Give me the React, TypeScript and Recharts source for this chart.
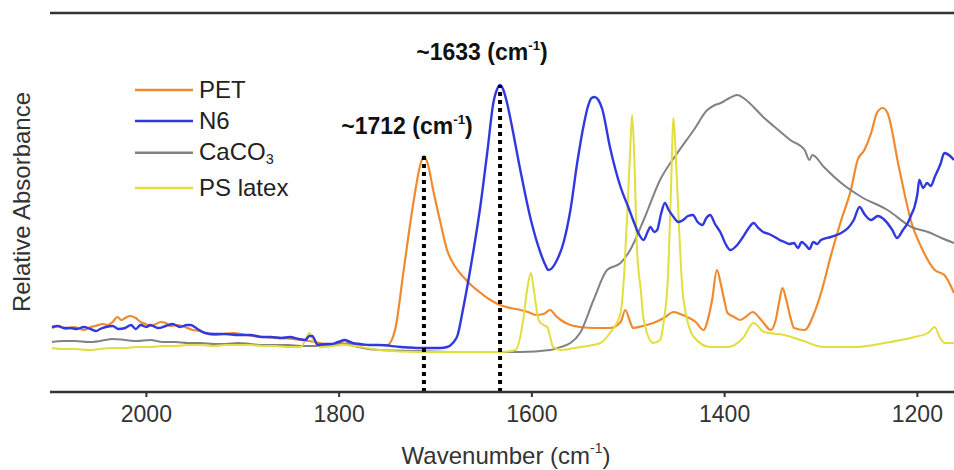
import React from 'react';
import { LineChart, Line, XAxis, YAxis, ReferenceLine } from 'recharts';

// [wavenumber (cm-1), relative absorbance (a.u.)]
const PET: [number, number][] = [
  [2098, 64], [2090, 66], [2083, 63], [2076, 65], [2071, 64], [2064, 62], [2058, 65], [2053, 66],
  [2045, 68], [2040, 67], [2035, 70], [2030, 75], [2026, 72], [2022, 74], [2017, 76], [2011, 74],
  [2006, 70], [2001, 68], [1996, 66], [1990, 68], [1985, 70], [1980, 69], [1975, 66], [1968, 67],
  [1960, 65], [1952, 62], [1945, 61], [1939, 59], [1930, 57], [1920, 58], [1910, 59], [1897, 57],
  [1880, 55], [1860, 54], [1840, 52], [1825, 50], [1809, 47], [1799, 49], [1785, 47], [1768, 47],
  [1750, 47], [1742, 62], [1733, 122], [1723, 189], [1715, 230], [1712, 236], [1708, 228], [1702, 200],
  [1695, 170], [1688, 142], [1680, 126], [1671, 115], [1662, 106], [1653, 99], [1643, 92], [1633, 87],
  [1622, 84], [1612, 82], [1604, 80], [1596, 77], [1588, 78], [1581, 82], [1575, 76], [1570, 72],
  [1560, 67], [1550, 65], [1535, 64], [1519, 64], [1508, 70], [1503, 82], [1498, 70], [1495, 64],
  [1485, 66], [1474, 69], [1463, 74], [1453, 80], [1446, 78], [1439, 75], [1430, 70], [1422, 62],
  [1416, 78], [1413, 92], [1408, 122], [1404, 108], [1400, 90], [1397, 79], [1390, 75], [1384, 72],
  [1377, 76], [1371, 80], [1362, 72], [1352, 62], [1347, 72], [1343, 92], [1340, 104], [1336, 92],
  [1331, 72], [1328, 64], [1317, 62], [1307, 79], [1300, 99], [1289, 139], [1279, 172], [1269, 202],
  [1262, 232], [1255, 242], [1248, 259], [1242, 279], [1236, 284], [1231, 279], [1219, 224],
  [1206, 169], [1196, 145], [1182, 122], [1172, 117], [1162, 99],
];

const N6: [number, number][] = [
  [2098, 65], [2092, 66], [2086, 64], [2079, 64], [2072, 63], [2065, 65], [2058, 63], [2052, 61],
  [2048, 63], [2042, 65], [2035, 66], [2029, 63], [2022, 64], [2016, 67], [2011, 63], [2006, 67],
  [2000, 65], [1996, 67], [1988, 64], [1980, 66], [1973, 68], [1965, 65], [1958, 67], [1954, 67],
  [1947, 63], [1939, 59], [1930, 58], [1918, 58], [1905, 57], [1892, 57], [1880, 55], [1871, 55],
  [1860, 54], [1851, 55], [1842, 53], [1835, 52], [1831, 56], [1828, 56], [1822, 47], [1815, 48],
  [1809, 48], [1801, 50], [1794, 52], [1786, 49], [1778, 48], [1768, 47], [1759, 47], [1736, 45],
  [1716, 44], [1695, 44], [1688, 45], [1682, 49], [1677, 57], [1672, 80], [1664, 122], [1653, 189],
  [1646, 242], [1640, 289], [1636, 303], [1633, 307], [1630, 303], [1626, 290], [1622, 272],
  [1612, 222], [1601, 172], [1591, 139], [1586, 127], [1583, 122], [1579, 124], [1575, 130],
  [1567, 150], [1560, 182], [1553, 229], [1546, 268], [1542, 285], [1538, 294], [1535, 295],
  [1531, 292], [1527, 283], [1519, 245], [1508, 205], [1500, 185], [1495, 172], [1489, 158],
  [1484, 152], [1480, 160], [1477, 165], [1473, 160], [1470, 162], [1466, 178], [1462, 189],
  [1458, 182], [1453, 175], [1448, 170], [1443, 172], [1438, 176], [1433, 177], [1428, 170],
  [1423, 167], [1419, 174], [1415, 177], [1410, 168], [1404, 159], [1399, 148], [1394, 142],
  [1388, 146], [1381, 155], [1375, 164], [1370, 169], [1365, 164], [1360, 160], [1354, 158],
  [1348, 155], [1343, 152], [1338, 150], [1333, 148], [1328, 149], [1324, 144], [1320, 150],
  [1316, 147], [1312, 143], [1308, 150], [1304, 148], [1300, 152], [1290, 155], [1279, 159],
  [1272, 164], [1266, 172], [1260, 185], [1255, 178], [1248, 172], [1241, 176], [1234, 172],
  [1226, 162], [1221, 154], [1215, 162], [1210, 169], [1206, 178], [1203, 185], [1200, 198],
  [1198, 212], [1194, 204], [1190, 209], [1186, 206], [1182, 215], [1176, 228], [1172, 239],
  [1166, 236], [1162, 232],
];

const CACO3: [number, number][] = [
  [2098, 50], [2086, 51], [2074, 51], [2060, 50], [2048, 51], [2035, 53], [2022, 52], [2010, 51],
  [1996, 52], [1983, 50], [1970, 50], [1957, 49], [1944, 49], [1930, 48], [1918, 48], [1905, 49],
  [1892, 48], [1879, 47], [1866, 47], [1853, 47], [1840, 46], [1830, 46], [1819, 46], [1801, 48],
  [1795, 52], [1788, 47], [1757, 42], [1716, 41], [1674, 40], [1612, 40], [1581, 42], [1570, 45],
  [1560, 49], [1550, 59], [1536, 92], [1522, 122], [1508, 129], [1498, 142], [1484, 172],
  [1467, 212], [1449, 239], [1432, 262], [1418, 282], [1410, 287], [1404, 289], [1395, 294],
  [1387, 297], [1379, 293], [1370, 285], [1360, 275], [1348, 265], [1332, 252], [1317, 242],
  [1312, 232], [1309, 237], [1297, 225], [1279, 209], [1258, 195], [1231, 182], [1206, 165],
  [1189, 160], [1175, 154], [1162, 149],
];

const PS_LATEX: [number, number][] = [
  [2098, 44], [2086, 43], [2074, 43], [2060, 42], [2048, 43], [2035, 44], [2022, 44], [2010, 45],
  [1996, 45], [1983, 46], [1970, 46], [1957, 47], [1944, 47], [1930, 46], [1918, 47], [1905, 47],
  [1892, 47], [1879, 46], [1866, 46], [1853, 45], [1840, 45], [1835, 52], [1831, 59], [1827, 52],
  [1819, 45], [1794, 47], [1759, 42], [1716, 40], [1632, 40], [1617, 42], [1609, 72], [1605, 102],
  [1601, 119], [1598, 102], [1593, 72], [1588, 67], [1584, 65], [1581, 55], [1578, 45], [1570, 42],
  [1550, 45], [1529, 49], [1519, 59], [1508, 79], [1504, 122], [1501, 179], [1498, 242],
  [1496, 277], [1494, 242], [1491, 145], [1487, 102], [1484, 72], [1474, 49], [1467, 52],
  [1463, 72], [1459, 112], [1456, 192], [1453, 274], [1450, 222], [1448, 179], [1443, 95],
  [1432, 55], [1415, 45], [1397, 45], [1381, 54], [1370, 69], [1359, 60], [1338, 57], [1321, 52],
  [1297, 45], [1265, 45], [1234, 49], [1203, 55], [1189, 59], [1182, 65], [1177, 55], [1172, 49],
  [1162, 49],
];

const X_TICKS = [2000, 1800, 1600, 1400, 1200];
const X_DOMAIN: [number, number] = [1162, 2100];
const Y_DOMAIN: [number, number] = [0, 379];
const MARKED_PEAKS: { wn: number; abs: number; label: string }[] = [
  { wn: 1712, abs: 236, label: '~1712' },
  { wn: 1633, abs: 307, label: '~1633' },
];

const SERIES = [
  { name: 'PET', data: PET, color: '#F08A2E', width: 2.2 },
  { name: 'CaCO3', data: CACO3, color: '#828282', width: 2 },
  { name: 'PS latex', data: PS_LATEX, color: '#E2DE3E', width: 2 },
  { name: 'N6', data: N6, color: '#3038E0', width: 2.4 },
];

const toRows = (arr: [number, number][]) => arr.map(([wn, v]) => ({ wn, v }));

const FONT = '"Liberation Sans", Arial, Helvetica, sans-serif';
const AXIS = '#333333';

const Cm = () => (
  <>
    (cm<sup style={{ fontSize: '0.58em', verticalAlign: '0.75em' }}>-1</sup>)
  </>
);

const legendItems = [
  { key: 'PET', color: '#F08A2E', top: 90, text: <>PET</> },
  { key: 'N6', color: '#3038E0', top: 121, text: <>N6</> },
  { key: 'CaCO3', color: '#828282', top: 153, text: <>CaCO<sub style={{ fontSize: '0.6em', verticalAlign: '-0.3em' }}>3</sub></> },
  { key: 'PS', color: '#E2DE3E', top: 188, text: <>PS latex</> },
];

export default function App() {
  return (
    <div style={{ position: 'absolute', left: 0, top: 0, width: 954, height: 470, fontFamily: FONT, background: '#fff', overflow: 'hidden' }}>
      <style>{'html,body{margin:0;padding:0;overflow:hidden;}'}</style>
      <LineChart width={954} height={470} margin={{ top: 13, right: 0, bottom: 38, left: 50 }}>
        <XAxis
          type="number"
          dataKey="wn"
          domain={X_DOMAIN}
          reversed
          allowDataOverflow
          ticks={X_TICKS}
          height={40}
          tickSize={5}
          tickMargin={9}
          tick={{ fontSize: 23, fill: AXIS, fontFamily: FONT }}
          tickLine={{ stroke: AXIS, strokeWidth: 2 }}
          axisLine={{ stroke: AXIS, strokeWidth: 2.5 }}
        />
        <YAxis
          type="number"
          domain={Y_DOMAIN}
          allowDataOverflow
          width={0}
          tick={false}
          tickLine={false}
          axisLine={{ stroke: AXIS, strokeWidth: 2.5 }}
        />
        <ReferenceLine y={Y_DOMAIN[1]} stroke={AXIS} strokeWidth={2.5} ifOverflow="visible" />
        {SERIES.map((s) => (
          <Line
            key={s.name}
            data={toRows(s.data)}
            dataKey="v"
            type="monotone"
            stroke={s.color}
            strokeWidth={s.width}
            dot={false}
            activeDot={false}
            isAnimationActive={false}
          />
        ))}
        {MARKED_PEAKS.map((p) => (
          <ReferenceLine
            key={p.label}
            segment={[{ x: p.wn, y: 0 }, { x: p.wn, y: p.abs }]}
            stroke="#000"
            strokeWidth={4}
            strokeDasharray="4 4"
          />
        ))}
      </LineChart>

      {/* annotations */}
      <div style={{ position: 'absolute', left: 407, top: 125, transform: 'translate(-50%,-50%)', fontSize: 23, fontWeight: 700, color: '#111', whiteSpace: 'nowrap', lineHeight: 1 }}>
        {MARKED_PEAKS[0].label} <Cm />
      </div>
      <div style={{ position: 'absolute', left: 482, top: 51, transform: 'translate(-50%,-50%)', fontSize: 23, fontWeight: 700, color: '#111', whiteSpace: 'nowrap', lineHeight: 1 }}>
        {MARKED_PEAKS[1].label} <Cm />
      </div>

      {/* axis titles */}
      <div style={{ position: 'absolute', left: 22, top: 202, transform: 'translate(-50%,-50%) rotate(-90deg)', fontSize: 24, color: AXIS, whiteSpace: 'nowrap', lineHeight: 1 }}>
        Relative Absorbance
      </div>
      <div style={{ position: 'absolute', left: 506, top: 455, transform: 'translate(-50%,-50%)', fontSize: 24, color: AXIS, whiteSpace: 'nowrap', lineHeight: 1 }}>
        Wavenumber <Cm />
      </div>

      {/* legend */}
      {legendItems.map((it) => (
        <div key={it.key} style={{ position: 'absolute', left: 135, top: it.top, transform: 'translateY(-50%)', display: 'flex', alignItems: 'center', whiteSpace: 'nowrap' }}>
          <svg width={58} height={4} style={{ display: 'block' }}>
            <line x1={0} y1={2} x2={58} y2={2} stroke={it.color} strokeWidth={2.5} />
          </svg>
          <span style={{ marginLeft: 6, fontSize: 24, color: '#222', lineHeight: 1 }}>{it.text}</span>
        </div>
      ))}
    </div>
  );
}
